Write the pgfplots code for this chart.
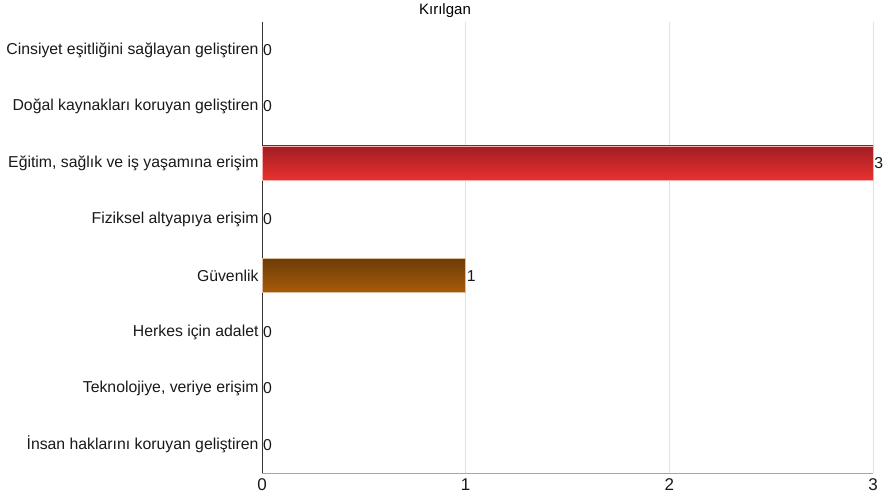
\documentclass[border=0pt]{standalone}
\usepackage{pgfplots}
\pgfplotsset{compat=1.18}
\usepackage{fontspec}
\setmainfont{Liberation Sans}
\definecolor{redtop}{HTML}{A21E22}
\definecolor{redbot}{HTML}{E8312F}
\definecolor{browntop}{HTML}{6E3D08}
\definecolor{brownbot}{HTML}{A85B08}
\definecolor{gridc}{HTML}{E2E2E2}
\begin{document}
\begin{tikzpicture}[x=1bp,y=1bp]
\path[use as bounding box] (0,0) rectangle (888,501);
\begin{axis}[
  at={(262bp,28bp)}, anchor=south west,
  scale only axis, width=611bp, height=451bp,
  xmin=0, xmax=3, ymin=-0.5, ymax=7.5, y dir=reverse,
  xtick={0,1,2,3}, ytick={0,...,7},
  yticklabels={Cinsiyet eşitliğini sağlayan geliştiren,Doğal kaynakları koruyan geliştiren,{Eğitim, sağlık ve iş yaşamına erişim},Fiziksel altyapıya erişim,Güvenlik,Herkes için adalet,{Teknolojiye, veriye erişim},İnsan haklarını koruyan geliştiren},
  axis x line*=bottom, axis y line*=left,
  x axis line style={draw=black!35, line width=0.8bp, -},
  y axis line style={draw=black!80, line width=0.8bp, -},
  major tick length=0,
  xmajorgrids, major grid style={draw=gridc, line width=0.6bp},
  ticklabel style={font=\fontsize{15.8bp}{17bp}\selectfont, text=black!90},
  xticklabel style={font=\fontsize{17bp}{19bp}\selectfont, yshift=-2bp},
  /pgf/number format/assume math mode=true,
  xbar, bar width=34bp, bar shift=0pt,
  nodes near coords, nodes near coords align={horizontal},
  every node near coord/.append style={font=\fontsize{15.8bp}{17bp}\selectfont, text=black!90, inner xsep=1bp, anchor=west},
  clip=false,
  title={Kırılgan},
  title style={at={(rel axis cs:0.2995,1)}, anchor=center, yshift=5bp, font=\fontsize{15bp}{17bp}\selectfont},
]
\addplot[draw=redbot!40, line width=0.5bp, top color=redtop, bottom color=redbot] coordinates {(3,2)};
\addplot[draw=brownbot!40, line width=0.5bp, top color=browntop, bottom color=brownbot] coordinates {(1,4)};
\addplot[draw=none, fill=none] coordinates {(0,0) (0,1) (0,3) (0,5) (0,6) (0,7)};
\end{axis}
\end{tikzpicture}
\end{document}
